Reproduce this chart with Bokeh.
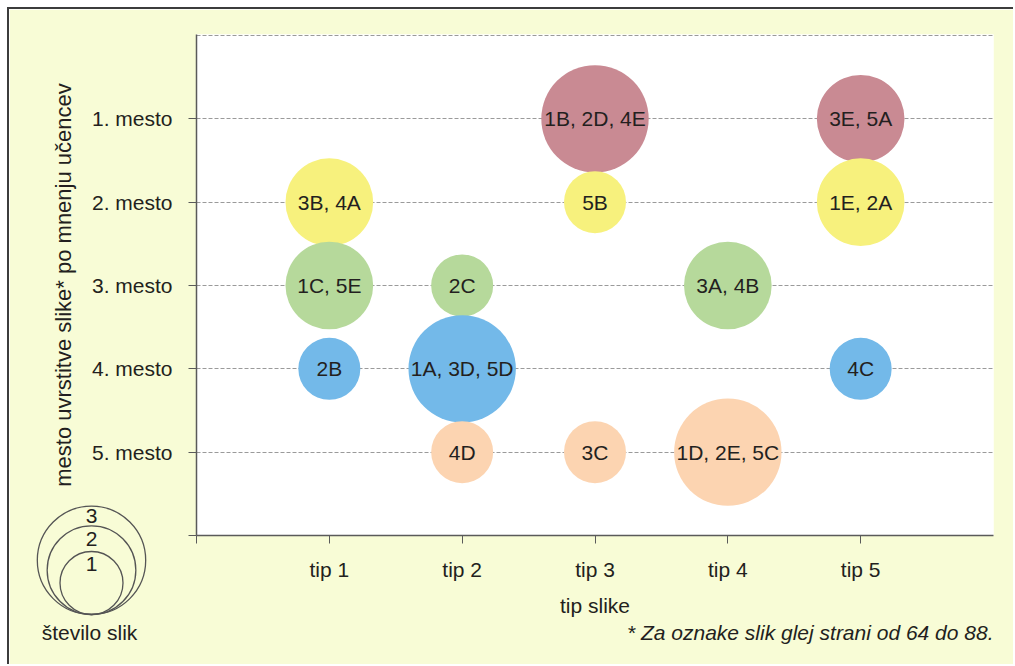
import math
from bokeh.plotting import figure
from bokeh.layouts import column
from bokeh.models import ColumnDataSource, FixedTicker, Range1d
from bokeh.embed import file_html
from bokeh.resources import INLINE
from bokeh.core.properties import value

# ---- data ----
tip_labels = ["tip 1", "tip 2", "tip 3", "tip 4", "tip 5"]
rank_labels = ["1. mesto", "2. mesto", "3. mesto", "4. mesto", "5. mesto"]
bubble_tip = [3, 5, 1, 3, 5, 1, 2, 4, 1, 2, 5, 2, 3, 4]
bubble_rank = [1, 1, 2, 2, 2, 3, 3, 3, 4, 4, 4, 5, 5, 5]
bubble_text = ["1B, 2D, 4E", "3E, 5A", "3B, 4A", "5B", "1E, 2A",
               "1C, 5E", "2C", "3A, 4B", "2B", "1A, 3D, 5D", "4C",
               "4D", "3C", "1D, 2E, 5C"]
bubble_count = [3, 2, 2, 1, 2, 2, 1, 2, 1, 3, 1, 1, 1, 3]
legend_counts = [1, 2, 3]
rank_colors = ["#c98a93", "#f7f17d", "#b6d99b", "#73b9e9", "#fcd4b1"]

BG = "#f8fcd6"
TXT = "#231f20"
FONT = "Liberation Sans"
FS = "21px"
BASE_D = 62  # diameter of a one-picture bubble, px

src = ColumnDataSource(dict(
    x=bubble_tip,
    y=bubble_rank,
    text=bubble_text,
    size=[BASE_D * math.sqrt(c) for c in bubble_count],
    color=[rank_colors[r - 1] for r in bubble_rank],
))

p = figure(width=1006, height=657,
           x_range=Range1d(0, 6), y_range=Range1d(6, -0.012),
           output_backend="svg", toolbar_location=None,
           min_border_left=187, min_border_right=22,
           min_border_top=25, min_border_bottom=131,
           background_fill_color="white", border_fill_color=BG,
           outline_line_color=None, margin=(7, 0, 0, 7),
           styles={"border-top": "2px solid #3c3c3c", "border-left": "2px solid #3c3c3c"})

# axes
p.xaxis.ticker = FixedTicker(ticks=list(range(0, len(tip_labels) + 1)))
p.xaxis.major_label_overrides = {0: "", **{i + 1: t for i, t in enumerate(tip_labels)}}
p.yaxis.ticker = FixedTicker(ticks=list(range(1, len(rank_labels) + 2)))
p.yaxis.major_label_overrides = {len(rank_labels) + 1: "", **{i + 1: t for i, t in enumerate(rank_labels)}}
p.xaxis.axis_label = "tip slike"
p.yaxis.axis_label = "mesto uvrstitve slike* po mnenju učencev"
for ax in (p.xaxis, p.yaxis):
    ax.major_tick_in = 0
    ax.major_tick_out = 8
    ax.minor_tick_line_color = None
    ax.axis_line_color = "#5a5a5a"
    ax.axis_line_width = 1.5
    ax.major_tick_line_color = "#5a5a5a"
    ax.major_tick_line_width = 1
    ax.major_label_text_font = FONT
    ax.major_label_text_font_size = FS
    ax.major_label_text_color = TXT
    ax.axis_label_text_font = FONT
    ax.axis_label_text_font_size = FS
    ax.axis_label_text_font_style = "normal"
    ax.axis_label_text_color = TXT
p.yaxis.axis_label_text_font_size = "22px"
p.yaxis.major_label_standoff = 16
p.xaxis.major_label_standoff = 14
p.yaxis.axis_label_standoff = 13
p.xaxis.axis_label_standoff = 10

p.xgrid.visible = False
p.ygrid.ticker = FixedTicker(ticks=list(range(0, len(rank_labels) + 1)))
p.ygrid.grid_line_color = "#9a9a9a"
p.ygrid.grid_line_dash = "4 2"
p.ygrid.grid_line_width = 1

# bubbles
p.scatter(x="x", y="y", size="size", fill_color="color", line_color=None, source=src)
p.text(x="x", y="y", text="text", source=src, text_align="center",
       text_baseline="middle", text_font=value(FONT), text_font_size=FS,
       text_color=TXT)

# ---- transparent overlay strip for size legend and footnote ----
OW, OH = 1007, 170
ov = figure(width=OW, height=OH, x_range=Range1d(0, OW), y_range=Range1d(OH, 0),
            output_backend="svg", toolbar_location=None,
            x_axis_type=None, y_axis_type=None, min_border=0,
            background_fill_alpha=0, border_fill_alpha=0, outline_line_color=None,
            margin=(-OH, 0, 0, 8))
ov.grid.visible = False
for fig in (p, ov):
    try:
        fig.frame_align = False
    except Exception:
        pass

LCX, LBOT = 83, 120
leg_src = ColumnDataSource(dict(
    x=[LCX] * len(legend_counts),
    y=[LBOT - BASE_D / 2 * math.sqrt(n) - 0.5 for n in legend_counts],
    size=[BASE_D * math.sqrt(n) + 1 for n in legend_counts],
    ty=[69, 44, 21],
    text=[str(n) for n in legend_counts],
))
ov.scatter(x="x", y="y", size="size", fill_color=None, line_color="#555555",
           line_width=1.3, source=leg_src)
ov.text(x="x", y="ty", text="text", source=leg_src, text_align="center",
        text_baseline="middle", text_font=value(FONT), text_font_size=FS, text_color=TXT)
ov.text(x=[81], y=[138], text=["število slik"], text_align="center",
        text_baseline="middle", text_font=value(FONT), text_font_size=FS, text_color=TXT)
ov.text(x=[985], y=[138], text=["* Za oznake slik glej strani od 64 do 88."],
        text_align="right", text_baseline="middle", text_font=value(FONT),
        text_font_size=FS, text_font_style="italic", text_color=TXT)

layout = column(p, ov, spacing=0)
open("out.html", "w").write(file_html(layout, INLINE))
